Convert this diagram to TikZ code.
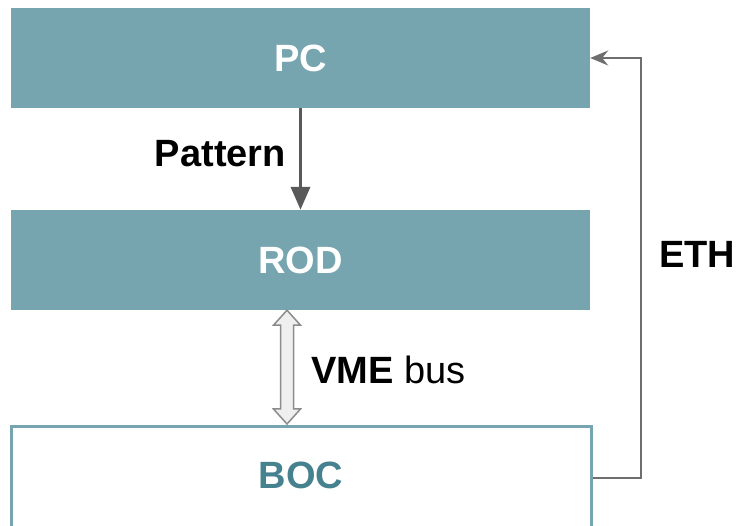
\documentclass[tikz,border=0pt]{standalone}
\usepackage{fontspec}
\setmainfont{Liberation Sans}
\usetikzlibrary{arrows.meta,calc}

\definecolor{tealbox}{HTML}{76A5AF}
\definecolor{tealtext}{HTML}{45818E}
\definecolor{arrowdark}{HTML}{595959}
\definecolor{ethgray}{HTML}{6E6E6E}
\definecolor{busfill}{HTML}{EFEFEF}
\definecolor{busline}{HTML}{8C8C8C}

\tikzset{
  unitbox/.style={rectangle, fill=tealbox, text=white, minimum width=579pt,
    minimum height=100pt, inner sep=0pt, font=\fontsize{38}{42}\selectfont\bfseries},
  openbox/.style={rectangle, draw=tealbox, line width=3pt, fill=white, text=tealtext,
    minimum width=580pt, minimum height=106pt, inner sep=0pt, text depth=10pt,
    font=\fontsize{38}{42}\selectfont\bfseries},
  lbl/.style={font=\fontsize{38}{42}\selectfont, text=black, inner sep=0pt},
  flowarrow/.style={draw=arrowdark, line width=3.5pt,
    -{Triangle[length=23pt,width=19pt]}},
  ethline/.style={draw=ethgray, line width=2pt,
    -{Stealth[length=18pt,width=15pt,inset=6pt]}},
  busarrow/.style={draw=busline, fill=busfill, line width=1.5pt, line join=miter}
}

\begin{document}
\begin{tikzpicture}[x=1pt,y=-1pt]
  \useasboundingbox (0,0) rectangle (737,526);
  \clip (0,0) rectangle (737,526);

  % units
  \node[unitbox] (pc) at (300.5,58) {PC};
  \node[unitbox] (rod) at (300.5,260) {ROD};
  \node[openbox] (boc) at (301,480) {BOC};

  % pattern download
  \draw[flowarrow] (pc.south) -- (rod.north);
  \node[lbl, anchor=east] (pattern) at (286,154) {\bfseries Pattern};

  % VME bus (hollow double arrow)
  \path (rod.south) ++(-13.5,0) coordinate (vt);
  \path (boc.north) ++(-14,-1.5) coordinate (vb);
  \draw[busarrow] (vt) -- ++(13.5,15) -- ++(-7,0)
    -- ($(vb)+(6.5,-15)$) -- ++(7,0) -- (vb) -- ++(-13.5,-15) -- ++(7,0)
    -- ($(vt)+(-6.5,15)$) -- ++(-7,0) -- cycle;
  \node[lbl, anchor=west] (vme) at (311,370) {\textbf{VME} bus};

  % Ethernet link back to the PC
  \coordinate (ethcorner) at (641,478);
  \draw[ethline] (boc.east |- ethcorner) -- (ethcorner) |- (pc.east);
  \node[lbl] (eth) at (697,254) {\bfseries ETH};
\end{tikzpicture}
\end{document}
